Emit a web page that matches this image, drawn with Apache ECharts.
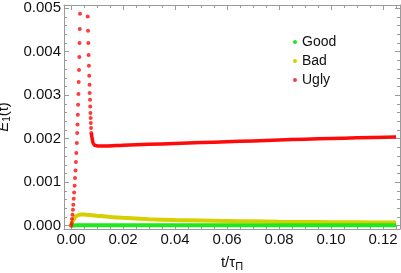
<!DOCTYPE html>
<html>
<head>
<meta charset="utf-8">
<script src="https://cdn.jsdelivr.net/npm/echarts@6/dist/echarts.min.js"></script>
<style>
html,body{margin:0;padding:0;background:#fff;}
#chart{width:401px;height:273px;}
</style>
</head>
<body>
<div id="chart"></div>
<script>
// ---- data ----
const seriesNames = ['Good', 'Bad', 'Ugly'];

const goodT = [0, 0.0005, 0.002, 0.01, 0.03, 0.06, 0.09, 0.125];
const goodV = [0, 0.00001, 0.00001, 0.00001, 0.00001, 0.00001, 0.00001, 0.00001];

const badT = [0, 0.0005, 0.001, 0.0015, 0.002, 0.003, 0.004, 0.005, 0.006, 0.008, 0.010, 0.015, 0.020, 0.030, 0.040, 0.050, 0.060, 0.070, 0.080, 0.090, 0.100, 0.110, 0.125];
const badV = [0, 0.00008, 0.00014, 0.00019, 0.00022, 0.00025, 0.000258, 0.000256, 0.000252, 0.00024, 0.000228, 0.0002, 0.00018, 0.00015, 0.00013, 0.00012, 0.00011, 0.0001, 0.00009, 0.000085, 0.00008, 0.000077, 0.000072];

// sparse (dotted) part of Ugly
const uglyDotT = [0, 0.00027, 0.00038, 0.00058, 0.00073, 0.00088, 0.00104, 0.00119, 0.00138, 0.00154, 0.00173, 0.00188, 0.00204, 0.00223, 0.00238, 0.00250, 0.00262, 0.00273, 0.00285, 0.00296, 0.00308, 0.00319, 0.00327, 0.00338, 0.00346,
  0.00642, 0.00654, 0.00665, 0.00677, 0.00688, 0.00700, 0.00712, 0.00719, 0.00731, 0.00738, 0.00746, 0.00754, 0.00762, 0.00769, 0.00781];
const uglyDotV = [0, 0.000062, 0.000154, 0.000253, 0.000368, 0.000483, 0.000621, 0.000766, 0.000920, 0.001097, 0.001271, 0.001464, 0.001671, 0.001901, 0.002131, 0.002329, 0.002552, 0.002782, 0.003028, 0.003303, 0.003579, 0.003878, 0.004200, 0.004522, 0.004874,
  0.004812, 0.004483, 0.004200, 0.003924, 0.003678, 0.003448, 0.003241, 0.003051, 0.002897, 0.002743, 0.002591, 0.002476, 0.002361, 0.002246, 0.002131];

// dense (continuous-looking) part of Ugly
const uglyLineT = [0.00781, 0.0080, 0.0082, 0.0084, 0.0087, 0.0091, 0.0097, 0.0105, 0.013, 0.020, 0.030, 0.040, 0.050, 0.060, 0.070, 0.080, 0.090, 0.100, 0.110, 0.125];
const uglyLineV = [0.00213, 0.00205, 0.00198, 0.00192, 0.00188, 0.00185, 0.00184, 0.00183, 0.00183, 0.00185, 0.00187, 0.00189, 0.00191, 0.00193, 0.00195, 0.00197, 0.00199, 0.002005, 0.00202, 0.00204];

const xTickStep = 0.02;
const yTickStep = 0.001;

// ---- chart ----
const zip = (a, b) => a.map((v, i) => [v, b[i]]);
const FONT = 'Liberation Sans, Arial, sans-serif';
const GOOD = '#1ee81e', BAD = '#d6d000', UGLY = '#ff0a0a';
const AX = '#9a9a9a';

const xMin = -0.0027, xMax = 0.12653;
const yMin = -0.000076, yMax = 0.005074;

function xAxisCfg(pos, showLabels) {
  return {
    type: 'value', position: pos, min: xMin, max: xMax,
    minInterval: xTickStep, maxInterval: xTickStep, splitNumber: 6,
    axisLine: { show: true, onZero: false, lineStyle: { color: AX, width: 1 } },
    axisTick: { show: true, inside: true, length: 5, lineStyle: { color: AX } },
    minorTick: { show: true, splitNumber: 4, length: 3, lineStyle: { color: AX } },
    splitLine: { show: false }, minorSplitLine: { show: false },
    axisLabel: { show: showLabels, showMinLabel: false, showMaxLabel: false, margin: 3,
      fontFamily: FONT, fontSize: 15, color: '#111', formatter: v => v.toFixed(2) },
    name: showLabels ? '{a|t/τ}{s|Π}' : '', nameLocation: 'middle', nameGap: 25,
    nameTextStyle: { rich: {
      a: { fontFamily: FONT, fontSize: 15, color: '#111', lineHeight: 18 },
      s: { fontFamily: FONT, fontSize: 11, color: '#111', lineHeight: 11, verticalAlign: 'bottom' }
    } }
  };
}
function yAxisCfg(pos, showLabels) {
  return {
    type: 'value', position: pos, min: yMin, max: yMax,
    minInterval: yTickStep, maxInterval: yTickStep, splitNumber: 5,
    axisLine: { show: true, onZero: false, lineStyle: { color: AX, width: 1 } },
    axisTick: { show: true, inside: true, length: 5, lineStyle: { color: AX } },
    minorTick: { show: true, splitNumber: 5, length: 3, lineStyle: { color: AX } },
    splitLine: { show: false }, minorSplitLine: { show: false },
    axisLabel: { show: showLabels, showMinLabel: false, showMaxLabel: false, margin: 3,
      fontFamily: FONT, fontSize: 15, color: '#111', formatter: v => v.toFixed(3) },
    name: showLabels ? '{e|E}{s|1}{n|(t)}' : '', nameLocation: 'middle', nameGap: 46,
    nameTextStyle: { rich: {
      e: { fontFamily: FONT, fontSize: 15, fontStyle: 'italic', color: '#111', lineHeight: 18 },
      s: { fontFamily: FONT, fontSize: 10, color: '#111', lineHeight: 10, verticalAlign: 'bottom' },
      n: { fontFamily: FONT, fontSize: 15, color: '#111', lineHeight: 18 }
    } }
  };
}

const chart = echarts.init(document.getElementById('chart'), null, { renderer: 'canvas' });
chart.setOption({
  animation: false,
  backgroundColor: '#fff',
  grid: { left: 64, top: 5, right: 1, bottom: 44, containLabel: false, outerBoundsMode: 'none' },
  xAxis: [xAxisCfg('bottom', true), xAxisCfg('top', false)],
  yAxis: [yAxisCfg('left', true), yAxisCfg('right', false)],
  legend: {
    orient: 'vertical', left: 293, top: 35, padding: 0, itemGap: 5,
    itemWidth: 4, itemHeight: 4,
    textStyle: { fontFamily: FONT, fontSize: 14, color: '#111', lineHeight: 14 },
    data: seriesNames.map(n => ({ name: n, icon: 'circle' }))
  },
  series: [
    { name: seriesNames[0], type: 'line', data: zip(goodT, goodV), showSymbol: false, symbol: 'none',
      color: GOOD, lineStyle: { color: GOOD, width: 4 }, z: 3 },
    { name: seriesNames[1], type: 'line', data: zip(badT, badV), showSymbol: false, symbol: 'none', smooth: 0.3,
      color: BAD, lineStyle: { color: BAD, width: 4 }, z: 2 },
    { name: seriesNames[2], type: 'scatter', data: zip(uglyDotT, uglyDotV), symbol: 'circle', symbolSize: 4,
      color: UGLY, itemStyle: { color: UGLY }, z: 4 },
    { name: seriesNames[2], type: 'line', data: zip(uglyLineT, uglyLineV), showSymbol: false, symbol: 'none', smooth: 0.3,
      color: UGLY, lineStyle: { color: UGLY, width: 3.5 }, z: 4 }
  ]
});
</script>
</body>
</html>
